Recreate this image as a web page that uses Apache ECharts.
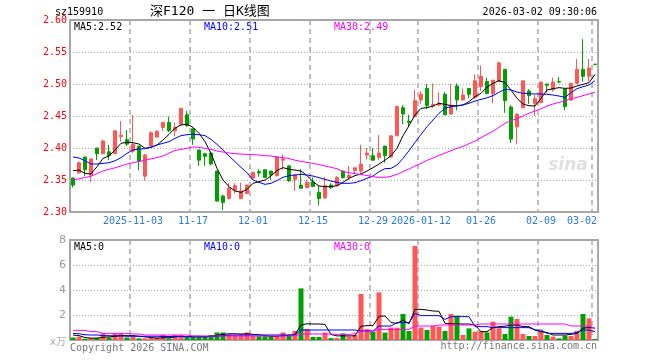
<!DOCTYPE html>
<html><head><meta charset="utf-8">
<script src="https://cdn.jsdelivr.net/npm/echarts@6/dist/echarts.min.js"></script>
<style>html,body{margin:0;padding:0;background:#fff}#c{width:660px;height:360px}</style>
</head><body><div id="c"></div><script>
const dates = [
'2025-10-20','2025-10-21','2025-10-22','2025-10-23','2025-10-24','2025-10-27','2025-10-28','2025-10-29','2025-10-30','2025-10-31',
'2025-11-03','2025-11-04','2025-11-05','2025-11-06','2025-11-07','2025-11-10','2025-11-11','2025-11-12','2025-11-13','2025-11-14',
'2025-11-17','2025-11-18','2025-11-19','2025-11-20','2025-11-21','2025-11-24','2025-11-25','2025-11-26','2025-11-27','2025-11-28',
'2025-12-01','2025-12-02','2025-12-03','2025-12-04','2025-12-05','2025-12-08','2025-12-09','2025-12-10','2025-12-11','2025-12-12',
'2025-12-15','2025-12-16','2025-12-17','2025-12-18','2025-12-19','2025-12-22','2025-12-23','2025-12-24','2025-12-25','2025-12-26',
'2025-12-29','2025-12-30','2025-12-31','2026-01-05','2026-01-06','2026-01-07','2026-01-08','2026-01-09',
'2026-01-12','2026-01-13','2026-01-14','2026-01-15','2026-01-16','2026-01-19','2026-01-20','2026-01-21','2026-01-22','2026-01-23',
'2026-01-26','2026-01-27','2026-01-28','2026-01-29','2026-01-30','2026-02-02','2026-02-03','2026-02-04','2026-02-05','2026-02-06',
'2026-02-09','2026-02-10','2026-02-11','2026-02-12','2026-02-13','2026-02-24','2026-02-25','2026-02-26','2026-02-27','2026-03-02'];
const tickDates = ['2025-11-03','2025-11-17','2025-12-01','2025-12-15','2025-12-29','2026-01-12','2026-01-26','2026-02-09','2026-03-02'];
const tickLabels = ['2025-11-03','11-17','12-01','12-15','12-29','2026-01-12','01-26','02-09','03-02'];

const openP = [2.353,2.361,2.386,2.358,2.400,2.391,2.394,2.391,2.418,2.413,2.395,2.403,2.356,2.403,2.417,2.432,2.440,2.427,2.437,2.452,
2.430,2.397,2.391,2.392,2.364,2.325,2.321,2.334,2.321,2.329,2.353,2.363,2.366,2.364,2.357,2.381,2.372,2.351,2.342,2.338,
2.347,2.331,2.322,2.342,2.341,2.364,2.354,2.365,2.364,2.389,2.388,2.385,2.403,2.386,2.419,2.463,2.442,2.449,2.475,2.493,
2.466,2.467,2.484,2.453,2.497,2.475,2.493,2.479,2.496,2.504,2.485,2.504,2.523,2.464,2.433,2.463,2.489,2.469,2.471,2.500,
2.491,2.504,2.492,2.475,2.501,2.523,2.512,2.531];
const closeP = [2.342,2.377,2.366,2.383,2.391,2.411,2.388,2.427,2.420,2.406,2.406,2.379,2.389,2.424,2.426,2.440,2.427,2.432,2.462,2.435,
2.414,2.381,2.387,2.375,2.317,2.315,2.337,2.341,2.333,2.342,2.362,2.361,2.354,2.358,2.386,2.383,2.349,2.358,2.337,2.346,
2.340,2.321,2.341,2.338,2.354,2.354,2.357,2.369,2.375,2.392,2.381,2.392,2.388,2.419,2.465,2.453,2.440,2.474,2.484,2.466,
2.468,2.470,2.452,2.467,2.475,2.483,2.484,2.505,2.512,2.485,2.506,2.533,2.474,2.414,2.453,2.505,2.482,2.477,2.503,2.498,
2.503,2.503,2.465,2.501,2.523,2.512,2.525,2.5305];
const lowP = [2.338,2.360,2.356,2.347,2.381,2.391,2.381,2.391,2.410,2.403,2.392,2.365,2.349,2.400,2.417,2.427,2.425,2.418,2.436,2.433,
2.405,2.372,2.372,2.373,2.316,2.303,2.320,2.329,2.320,2.328,2.350,2.355,2.354,2.350,2.355,2.366,2.347,2.333,2.337,2.337,
2.339,2.310,2.321,2.336,2.340,2.352,2.350,2.360,2.360,2.382,2.380,2.381,2.377,2.385,2.419,2.437,2.433,2.449,2.469,2.461,
2.463,2.465,2.451,2.452,2.459,2.474,2.478,2.477,2.489,2.484,2.470,2.504,2.455,2.408,2.406,2.462,2.469,2.450,2.470,2.487,
2.488,2.501,2.459,2.474,2.500,2.504,2.504,2.5305];
const highP = [2.354,2.379,2.386,2.383,2.400,2.413,2.405,2.427,2.442,2.428,2.452,2.403,2.391,2.426,2.428,2.441,2.449,2.440,2.462,2.458,
2.430,2.397,2.392,2.394,2.364,2.327,2.345,2.345,2.346,2.343,2.362,2.367,2.366,2.364,2.387,2.390,2.373,2.358,2.367,2.350,
2.354,2.341,2.355,2.345,2.356,2.365,2.372,2.370,2.405,2.400,2.400,2.420,2.403,2.419,2.465,2.467,2.452,2.491,2.489,2.500,
2.501,2.487,2.487,2.500,2.501,2.493,2.493,2.515,2.529,2.510,2.506,2.535,2.523,2.467,2.453,2.505,2.492,2.483,2.503,2.500,
2.510,2.511,2.493,2.502,2.539,2.570,2.539,2.531];

const ma5 = [2.3646,2.3656,2.3604,2.3594,2.3708,2.3838,2.3875,2.3969,2.4073,2.4088,2.4083,2.4062,2.3995,2.401,2.4047,2.4125,2.4213,2.431,2.4359,2.437,
2.4323,2.4229,2.4099,2.3917,2.3682,2.35,2.3396,2.3328,2.3307,2.3354,2.3448,2.3474,2.35,2.3562,2.365,2.3693,2.3667,2.3656,2.364,2.3568,
2.3474,2.3406,2.3396,2.3396,2.3411,2.3463,2.3526,2.3568,2.3594,2.364,2.3693,2.375,2.381,2.388,2.3995,2.4193,2.4349,2.4516,2.462,2.463,
2.4656,2.4698,2.4682,2.4661,2.4661,2.4672,2.4724,2.4802,2.4854,2.495,2.501,2.5052,2.5021,2.4906,2.4776,2.4687,2.4661,2.4656,2.4776,2.4906,
2.4927,2.4943,2.4932,2.4937,2.4969,2.4995,2.5021,2.515];
const ma10 = [2.386,2.3844,2.380,2.375,2.375,2.376,2.377,2.380,2.385,2.3917,2.3969,2.3984,2.399,2.401,2.4047,2.4073,2.4099,2.415,2.4193,2.4208,
2.4213,2.4208,2.4193,2.4135,2.4057,2.3969,2.3875,2.3786,2.3698,2.3614,2.35,2.3463,2.3432,2.3448,2.349,2.3542,2.3568,2.3578,2.3589,2.3578,
2.3562,2.3536,2.351,2.3484,2.3463,2.3448,2.3448,2.3458,2.3489,2.3526,2.3562,2.363,2.3677,2.3682,2.3734,2.3838,2.3958,2.4088,2.4213,2.4333,
2.4437,2.4542,2.462,2.4646,2.4656,2.4672,2.4698,2.4734,2.476,2.4784,2.4818,2.487,2.4917,2.4906,2.4875,2.4854,2.4849,2.4844,2.4844,2.4839,
2.4828,2.4812,2.4792,2.4865,2.4927,2.4958,2.4984,2.5052];
const ma30 = [2.35,2.352,2.354,2.356,2.360,2.364,2.3667,2.369,2.372,2.375,2.377,2.379,2.381,2.383,2.385,2.3875,2.392,2.396,2.3979,2.3995,
2.4016,2.401,2.3995,2.3979,2.3953,2.3937,2.3922,2.3911,2.3906,2.39,2.3896,2.389,2.388,2.3875,2.386,2.385,2.3835,2.381,2.379,2.3776,
2.376,2.374,2.3719,2.3698,2.3677,2.363,2.3615,2.36,2.3585,2.357,2.3552,2.3542,2.3542,2.3557,2.3588,2.363,2.3672,2.3718,2.376,2.3807,
2.3843,2.3885,2.3922,2.3958,2.3995,2.4026,2.4067,2.4109,2.4161,2.4213,2.426,2.4323,2.4385,2.4427,2.4458,2.45,2.4542,2.4578,2.4614,2.4656,
2.4687,2.4713,2.4739,2.4766,2.4792,2.4818,2.4844,2.487];

const volume = [.2,.27,.1,.15,.15,.53,.2,.5,.5,.2,.27,.13,.13,.2,.2,.4,.13,.4,.4,.2,
.27,.27,.27,.4,.6,.6,.45,.4,.45,.6,.35,.3,.3,.3,.3,.6,.4,.72,4.13,.88,
.25,.25,.6,.15,.15,.53,.27,.4,3.68,.88,.67,3.81,.59,.99,.99,2.08,.72,7.52,.99,.8,
1.12,1.07,.72,2.08,1.95,.4,.93,.67,.72,.61,1.47,.93,.48,1.87,1.68,.48,.32,.32,.72,.4,
.27,.13,.35,.32,.72,2.08,1.73,.08];
const volMa5 = [.4,.35,.2,.15,.15,.22,.25,.3,.35,.35,.35,.3,.25,.2,.15,.18,.18,.25,.28,.25,
.3,.3,.28,.3,.38,.45,.5,.5,.48,.5,.45,.42,.35,.3,.3,.35,.38,.45,1.2,1.3,
1.28,1.28,1.25,.44,.33,.33,.33,.33,1.1,1.15,1.15,1.9,1.92,1.4,1.33,1.6,1.3,2.45,2.45,2.4,
2.32,2.3,1.33,1.3,1.28,1.28,1.28,1.2,.67,.67,1.0,1.07,1.1,1.2,1.2,1.07,1.07,.8,.67,.6,
.4,.4,.4,.45,.53,.95,1.0,.95];
const volMa10 = [.53,.5,.42,.4,.4,.35,.35,.33,.33,.3,.3,.3,.3,.3,.3,.28,.28,.28,.28,.25,
.25,.25,.25,.28,.3,.35,.38,.4,.4,.4,.4,.4,.4,.4,.4,.4,.4,.4,.8,.8,
.8,.8,.8,.8,.8,.8,.8,.8,.72,.72,.72,1.12,1.12,1.12,1.39,1.39,1.39,2.13,1.95,1.95,
1.95,1.95,1.65,1.87,1.87,1.87,1.87,1.07,1.07,1.07,.99,.99,.99,.99,.99,.99,.99,.8,.8,.53,
.53,.53,.53,.53,.6,.8,.8,.67];
const volMa30 = [.77,.77,.77,.67,.67,.53,.53,.53,.53,.53,.48,.48,.4,.4,.4,.4,.4,.4,.4,.4,
.32,.32,.32,.32,.32,.32,.32,.32,.32,.32,.32,.32,.32,.32,.32,.32,.32,.35,.48,.48,
.48,.48,.48,.48,.45,.45,.45,.5,.72,.72,.72,.85,.85,.85,.85,.85,.85,1.12,1.12,1.12,
1.12,1.2,1.2,1.2,1.2,1.2,1.2,1.2,1.28,1.28,1.28,1.28,1.28,1.28,1.28,1.28,1.28,1.28,1.28,1.28,
1.28,1.28,1.28,1.12,1.12,1.12,1.12,.93];

const RED = '#ff5656', GREEN = '#00a000';
const MONO = 'DejaVu Sans Mono';
const chart = echarts.init(document.getElementById('c'), null, {renderer: 'canvas'});
const isTick = (i, v) => tickDates.indexOf(v) >= 0;
const dashLine = {show: true, interval: isTick, lineStyle: {color: '#aaa', type: [5, 4], width: 1.5}};
const dotLine = {show: true, lineStyle: {color: '#aaa', type: [1, 2], width: 1}};
const txt = (text, x, y, fill, size, align, family) => ({
  type: 'text', x: x, y: y, silent: true,
  style: {text: text, fill: fill, font: (size || 10) + 'px ' + (family || MONO), align: align || 'left', verticalAlign: 'middle'}
});
const lineS = (data, color, xi, yi) => ({
  type: 'line', data: data, xAxisIndex: xi, yAxisIndex: yi, symbol: 'none', silent: true,
  lineStyle: {color: color, width: 1}, itemStyle: {color: color}, z: 5
});

chart.setOption({
  animation: false,
  backgroundColor: '#fff',
  grid: [
    {left: 70, top: 20, width: 528, height: 192, show: true, borderColor: '#a6a6a6', borderWidth: 2},
    {left: 70, top: 240, width: 528, height: 100, show: true, borderColor: '#a6a6a6', borderWidth: 2}
  ],
  xAxis: [
    {type: 'category', gridIndex: 0, data: dates, boundaryGap: true,
     axisLine: {show: false}, axisTick: {show: false},
     axisLabel: {interval: isTick, color: '#2a7ad8', fontFamily: MONO, fontSize: 10, margin: 4,
       formatter: v => { const k = tickDates.indexOf(v); if (k < 0) return ''; return k === tickDates.length - 1 ? '{r|' + tickLabels[k] + '}' : tickLabels[k]; },
       rich: {r: {color: '#2a7ad8', fontFamily: MONO, fontSize: 10, padding: [0, 26, 0, 0]}}},
     splitLine: dashLine},
    {type: 'category', gridIndex: 1, data: dates, boundaryGap: true,
     axisLine: {show: false}, axisTick: {show: false}, axisLabel: {show: false},
     splitLine: dashLine}
  ],
  yAxis: [
    {type: 'value', gridIndex: 0, min: 2.30, max: 2.60, interval: 0.05,
     axisLine: {show: false}, axisTick: {show: false},
     axisLabel: {color: '#ff0000', fontFamily: MONO, fontSize: 10, margin: 3, formatter: v => v.toFixed(2)},
     splitLine: dotLine},
    {type: 'value', gridIndex: 1, min: 0, max: 8, interval: 2,
     axisLine: {show: false}, axisTick: {show: false},
     axisLabel: {color: '#999', fontFamily: 'DejaVu Sans', fontSize: 11, margin: 4, formatter: v => v === 0 ? '' : String(v)},
     splitLine: dotLine}
  ],
  series: [
    {type: 'candlestick', xAxisIndex: 0, yAxisIndex: 0, barWidth: 4, silent: true,
     data: dates.map((d, i) => [openP[i], closeP[i], lowP[i], highP[i]]),
     itemStyle: {color: RED, color0: GREEN, borderColor: RED, borderColor0: GREEN, borderWidth: 1}},
    lineS(ma5, '#000000', 0, 0),
    lineS(ma10, '#0000ff', 0, 0),
    lineS(ma30, '#ff00ff', 0, 0),
    {type: 'bar', xAxisIndex: 1, yAxisIndex: 1, barWidth: 5, silent: true,
     data: volume.map((v, i) => ({value: v, itemStyle: {color: closeP[i] >= openP[i] ? RED : GREEN}}))},
    lineS(volMa5, '#000000', 1, 1),
    lineS(volMa10, '#0000ff', 1, 1),
    lineS(volMa30, '#ff00ff', 1, 1)
  ],
  graphic: [
    txt('sz159910', 55, 12, '#000'),
    txt('深F120 一 日K线图', 150, 12, '#000', 13, 'left', MONO + ', "Noto Sans CJK SC"'),
    txt('2026-03-02 09:30:06', 597, 12, '#000', 10, 'right'),
    txt('MA5:2.52', 74, 27, '#000'),
    txt('MA10:2.51', 204, 27, '#0000ff'),
    txt('MA30:2.49', 334, 27, '#ff00ff'),
    txt('MA5:0', 74, 247, '#000'),
    txt('MA10:0', 204, 247, '#0000ff'),
    txt('MA30:0', 334, 247, '#ff00ff'),
    txt('x万', 66, 342, '#aaa', 10, 'right', '"DejaVu Sans", "Noto Sans CJK SC"'),
    txt('Copyright 2026 SINA.COM', 70, 348, '#777'),
    txt('http://finance.sina.com.cn', 597, 346, '#777', 10, 'right'),
    {type: 'text', x: 568, y: 166, silent: true, z: 0,
     style: {text: 'sina', fill: '#e0e0e0', font: 'italic bold 17px "DejaVu Sans"', align: 'center', verticalAlign: 'middle'}}
  ]
});
</script></body></html>
